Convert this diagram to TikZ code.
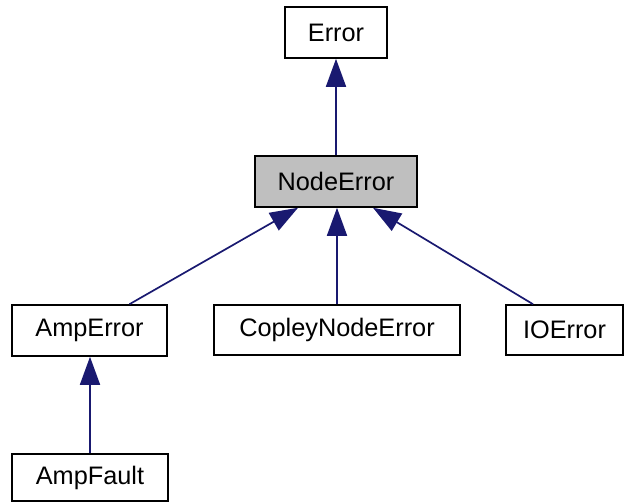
\documentclass[tikz,border=0pt]{standalone}
\usepackage{fontspec}
\setmainfont{Liberation Sans}
\usetikzlibrary{arrows.meta,calc}
\definecolor{edgeblue}{HTML}{191970}
\definecolor{fillgray}{HTML}{BFBFBF}
\tikzset{
  cls/.style={draw=black, line width=1.6pt, fill=white, inner sep=0pt, font=\fontsize{25.3}{29}\selectfont, anchor=center},
  inh/.style={draw=edgeblue, line width=1.7pt, -{Triangle[length=28pt,width=20pt,fill=edgeblue]}}
}
\begin{document}
\begin{tikzpicture}[x=1pt,y=-1pt]
\useasboundingbox (0,0) rectangle (624,502);
\node[cls, minimum width=102pt, minimum height=51pt] (err) at (336,32.5) {Error};
\node[cls, fill=fillgray, minimum width=162pt, minimum height=51pt] (ne) at (336,181.5) {NodeError};
\node[cls, minimum width=155pt, minimum height=51pt] (amp) at (89.5,330.5) {AmpError};
\node[cls, minimum width=246pt, minimum height=50pt] (cop) at (337,330) {CopleyNodeError};
\node[cls, minimum width=117pt, minimum height=50pt] (io) at (564.5,330) {IOError};
\node[cls, minimum width=156pt, minimum height=47pt] (af) at (90,477.5) {AmpFault};
\draw[inh] (ne.north) -- (err.south);
\draw[inh] ($(amp.north)+(40,0)$) -- ($(ne.south)+(-38,0)$);
\draw[inh] (cop.north) -- (ne.south -| cop.north);
\draw[inh] ($(io.north)+(-31.5,0)$) -- ($(ne.south)+(37,0)$);
\draw[inh] (af.north) -- (amp.south -| af.north);
\end{tikzpicture}
\end{document}
